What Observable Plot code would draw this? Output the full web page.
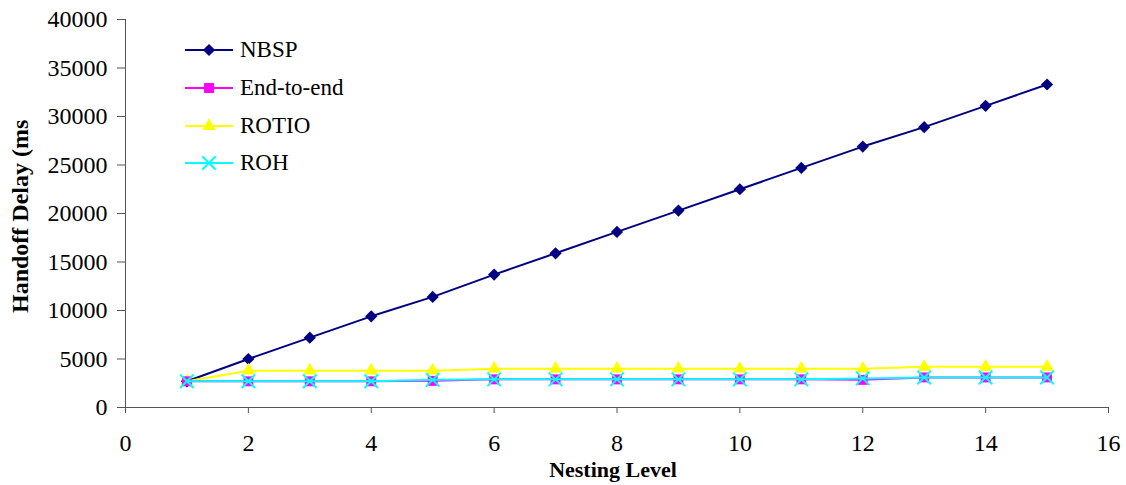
<!DOCTYPE html>
<html>
<head>
<meta charset="utf-8">
<script src="https://cdn.jsdelivr.net/npm/d3@7"></script>
<script src="https://cdn.jsdelivr.net/npm/@observablehq/plot@0.6"></script>
<style>
  html, body { margin: 0; padding: 0; background: #fff; }
  #chart { position: relative; width: 1126px; height: 485px; }
</style>
</head>
<body>
<div id="chart"></div>
<script>
// ---- Data ----
const nestingLevel = [1, 2, 3, 4, 5, 6, 7, 8, 9, 10, 11, 12, 13, 14, 15];
const nbsp     = [2700, 5000, 7200, 9400, 11400, 13700, 15900, 18100, 20300, 22500, 24700, 26900, 28900, 31100, 33300];
const endToEnd = [2700, 2700, 2700, 2700, 2750, 2900, 2900, 2900, 2900, 2900, 2900, 2850, 3100, 3100, 3100];
const rotio    = [2700, 3800, 3800, 3800, 3800, 4000, 4000, 4000, 4000, 4000, 4000, 4000, 4200, 4200, 4200];
const roh      = [2700, 2700, 2700, 2700, 2850, 2900, 2900, 2900, 2900, 2900, 2900, 3000, 3100, 3100, 3100];

const xTicks = [0, 2, 4, 6, 8, 10, 12, 14, 16];
const yTicks = [0, 5000, 10000, 15000, 20000, 25000, 30000, 35000, 40000];

const seriesNames   = ["NBSP", "End-to-end", "ROTIO", "ROH"];
const seriesValues  = [nbsp, endToEnd, rotio, roh];
const seriesColors  = ["#000080", "#FF00FF", "#FFFF00", "#00FFFF"];
const seriesSymbols = ["diamond2", "square", "triangle", "times"];
const seriesR       = [5.5, 5.6, 5, 6.2];
const drawOrder     = [0, 2, 1, 3];

const xTitle = "Nesting Level";
const yTitle = "Handoff Delay (ms";

// ---- Build table ----
const rows = seriesValues.flatMap((vals, i) =>
  vals.map((v, j) => ({ level: nestingLevel[j], delay: v, name: seriesNames[i] })));

const marks = [];
for (const i of drawOrder) {
  const data = rows.filter(d => d.name === seriesNames[i]);
  marks.push(Plot.line(data, { x: "level", y: "delay", stroke: seriesColors[i], strokeWidth: 2 }));
  const isStroke = seriesSymbols[i] === "times";
  marks.push(Plot.dot(data, {
    x: "level", y: "delay", symbol: () => seriesSymbols[i], r: seriesR[i],
    fill: isStroke ? "none" : seriesColors[i],
    stroke: isStroke ? seriesColors[i] : "none",
    strokeWidth: isStroke ? 2 : 0
  }));
}

const axisColor = "#555";
const plot = Plot.plot({
  width: 1126,
  height: 485,
  marginLeft: 125,
  marginRight: 18,
  marginTop: 19,
  marginBottom: 78,
  style: { fontFamily: "'Liberation Serif','Times New Roman',serif", fontSize: "24px", color: "#000", background: "#fff" },
  symbol: { type: "identity" },
  x: { domain: [0, 16], ticks: xTicks, label: null },
  y: { domain: [0, 40000], ticks: yTicks, label: null },
  marks: [
    Plot.axisX({ ticks: xTicks, tickSize: 6, tickPadding: 20, tickFormat: d => String(d), stroke: axisColor, label: null }),
    Plot.axisY({ ticks: yTicks, tickSize: 8, tickPadding: 10, tickFormat: d => String(d), stroke: axisColor, label: null }),
    Plot.ruleX([0], { stroke: axisColor }),
    Plot.ruleY([0], { stroke: axisColor }),
    ...marks
  ]
});

document.getElementById("chart").appendChild(plot);

// ---- Titles & legend ----
const svg = d3.select(plot);

svg.append("text")
  .attr("x", 613).attr("y", 477)
  .attr("text-anchor", "middle")
  .style("font-weight", "bold").style("font-size", "22px")
  .text(xTitle);

svg.append("text")
  .attr("transform", "translate(28,313) rotate(-90)")
  .attr("text-anchor", "start")
  .style("font-weight", "bold").style("font-size", "24px")
  .text(yTitle);

const symbolMap = { diamond2: d3.symbolDiamond2, square: d3.symbolSquare, triangle: d3.symbolTriangle, times: d3.symbolTimes };
const legendRowsY = [49, 87, 125, 162];
const leg = svg.append("g").attr("class", "legend");
seriesNames.forEach((name, i) => {
  const y = legendRowsY[i];
  leg.append("line").attr("x1", 185).attr("x2", 233).attr("y1", y + 1).attr("y2", y + 1)
    .attr("stroke", seriesColors[i]).attr("stroke-width", 2);
  const isStroke = seriesSymbols[i] === "times";
  leg.append("path")
    .attr("transform", `translate(209,${y + 1})`)
    .attr("d", d3.symbol(symbolMap[seriesSymbols[i]], Math.PI * seriesR[i] * seriesR[i])())
    .attr("fill", isStroke ? "none" : seriesColors[i])
    .attr("stroke", isStroke ? seriesColors[i] : "none")
    .attr("stroke-width", isStroke ? 2 : 0);
  leg.append("text").attr("x", 240).attr("y", y + 8)
    .attr("text-anchor", "start")
    .style("font-size", "23px").attr("fill", "#000")
    .text(name);
});
</script>
</body>
</html>
